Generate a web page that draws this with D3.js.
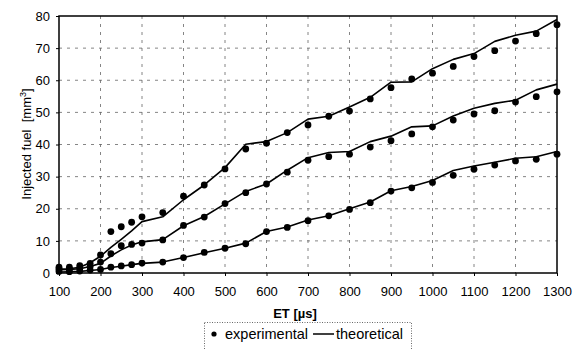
<!DOCTYPE html>
<html>
<head>
<meta charset="utf-8">
<script src="https://cdn.jsdelivr.net/npm/d3@7"></script>
<style>
  html, body { margin: 0; padding: 0; background: #fff; }
  svg { display: block; font-family: "Liberation Sans", Arial, sans-serif; }
</style>
</head>
<body>
<svg id="chart" width="576" height="349"></svg>
<script>
const etValues = [100,125,150,175,200,225,250,275,300,350,400,450,500,550,600,650,700,750,800,850,900,950,1000,1050,1100,1150,1200,1250,1300];

const expHigh  = [1.8,1.8,2.3,3.0,5.6,12.9,14.4,15.8,17.5,18.8,23.9,27.4,32.4,38.6,40.4,43.7,46.1,48.8,50.4,54.2,57.7,60.4,62.2,64.3,67.4,69.2,72.2,74.5,77.3];
const theoHigh = [1.2,1.3,1.8,3.2,5.2,8.0,10.5,13.1,16.0,17.5,22.8,27.4,32.8,40.1,40.9,43.7,47.9,48.8,51.7,54.7,59.4,59.5,63.6,66.5,68.3,72.1,74.0,75.3,78.9];
const expMid   = [1.2,1.2,1.5,2.0,3.4,6.0,8.5,8.9,9.3,10.3,14.8,17.4,21.6,25.0,27.7,31.4,35.1,36.2,37.0,39.2,41.2,43.3,45.5,47.6,49.5,50.5,53.2,54.9,56.4];
const theoMid  = [1.0,1.1,1.3,2.0,3.0,5.3,7.2,8.7,9.7,10.4,14.7,17.6,21.5,25.4,27.7,32.0,35.9,37.5,37.8,40.9,42.6,45.5,45.8,48.9,51.3,52.8,53.8,57.0,58.8];
const expLow   = [0.5,0.4,0.6,0.9,1.1,1.8,2.2,2.6,3.1,3.4,4.8,6.4,7.7,9.1,12.9,14.2,16.3,17.8,19.8,21.9,25.5,26.5,28.2,30.4,32.3,33.6,34.9,35.4,37.0];
const theoLow  = [0.3,0.4,0.5,0.8,1.1,1.7,2.1,2.6,3.0,3.4,4.8,6.3,7.7,9.3,12.9,14.3,16.5,17.8,20.0,22.1,25.6,26.9,28.8,31.9,33.3,34.5,35.7,36.2,37.8];

const xTicks = [100,200,300,400,500,600,700,800,900,1000,1100,1200,1300];
const yTicks = [0,10,20,30,40,50,60,70,80];

const xTitle = "ET [\u00b5s]";
const yTitleMain = "Injected fuel\u00a0\u00a0[mm";
const yTitleSup = "3";
const yTitleEnd = "]";
const legendLabels = ["experimental", "theoretical"];

const svg = d3.select("#chart");
const pLeft = 59, pRight = 557, pTop = 16, pBottom = 273;

const x = d3.scaleLinear().domain([100, 1300]).range([pLeft, pRight]);
const y = d3.scaleLinear().domain([0, 80]).range([pBottom, pTop]);

// grid
const grid = svg.append("g");
grid.selectAll("line.h").data(yTicks.filter(v => v > 0 && v < 80)).enter().append("line")
  .attr("x1", pLeft).attr("x2", pRight)
  .attr("y1", d => y(d)).attr("y2", d => y(d))
  .attr("stroke", "#666").attr("stroke-width", 0.8).attr("stroke-dasharray", "3,5");
grid.selectAll("line.v").data(xTicks.filter(v => v > 100 && v < 1300)).enter().append("line")
  .attr("y1", pTop).attr("y2", pBottom)
  .attr("x1", d => x(d)).attr("x2", d => x(d))
  .attr("stroke", "#666").attr("stroke-width", 0.8).attr("stroke-dasharray", "3,5");

// axes
const xAxis = svg.append("g").attr("transform", `translate(0,${pBottom})`)
  .call(d3.axisBottom(x).tickValues(xTicks).tickFormat(d3.format("d"))
    .tickSizeInner(3).tickSizeOuter(0).tickPadding(11));
const yAxis = svg.append("g").attr("transform", `translate(${pLeft},0)`)
  .call(d3.axisLeft(y).tickValues(yTicks).tickFormat(d3.format("d"))
    .tickSizeInner(3).tickSizeOuter(0).tickPadding(6));
[xAxis, yAxis].forEach(a => {
  a.select(".domain").remove();
  a.selectAll("text").attr("font-size", 13).attr("fill", "#000")
    .attr("font-family", "'Liberation Sans', Arial, sans-serif");
  a.selectAll("line").attr("stroke", "#000");
});

// frame
svg.append("rect").attr("x", pLeft).attr("y", pTop)
  .attr("width", pRight - pLeft).attr("height", pBottom - pTop)
  .attr("fill", "none").attr("stroke", "#000").attr("stroke-width", 1.5);

// series
const series = [
  { exp: expHigh, theo: theoHigh },
  { exp: expMid, theo: theoMid },
  { exp: expLow, theo: theoLow }
];
const line = d3.line().x(d => x(d[0])).y(d => y(d[1]));
series.forEach(s => {
  svg.append("path")
    .datum(etValues.map((v, i) => [v, s.theo[i]]))
    .attr("d", line).attr("fill", "none")
    .attr("stroke", "#000").attr("stroke-width", 1.6).attr("stroke-linejoin", "round");
  svg.append("g").selectAll("circle")
    .data(etValues.map((v, i) => [v, s.exp[i]]))
    .enter().append("circle")
    .attr("cx", d => x(d[0])).attr("cy", d => y(d[1])).attr("r", 3.4).attr("fill", "#000");
});

// axis titles
svg.append("text").attr("x", 295).attr("y", 318).attr("text-anchor", "middle")
  .attr("font-size", 13).attr("font-weight", "bold").text(xTitle);

const yt = svg.append("text").attr("transform", "translate(31,144) rotate(-90)")
  .attr("text-anchor", "middle").attr("font-size", 13);
yt.append("tspan").text(yTitleMain);
yt.append("tspan").attr("font-size", 9).attr("dy", -5).text(yTitleSup);
yt.append("tspan").attr("dy", 5).text(yTitleEnd);

// legend
const lg = svg.append("g");
lg.append("rect").attr("x", 204.5).attr("y", 322.5).attr("width", 207).attr("height", 30)
  .attr("fill", "none").attr("stroke", "#444").attr("stroke-width", 0.8).attr("stroke-dasharray", "1,1.5");
lg.append("circle").attr("cx", 214).attr("cy", 334).attr("r", 2.6).attr("fill", "#000");
const t1 = lg.append("text").attr("x", 225).attr("y", 339).attr("font-size", 14.5).text(legendLabels[0]);
const w1 = t1.node().getComputedTextLength();
const dashStart = 225 + w1 + 5;
lg.append("line").attr("x1", dashStart).attr("x2", dashStart + 21)
  .attr("y1", 334).attr("y2", 334).attr("stroke", "#000").attr("stroke-width", 1.5);
lg.append("text").attr("x", dashStart + 23).attr("y", 339).attr("font-size", 14.5).text(legendLabels[1]);
</script>
</body>
</html>
